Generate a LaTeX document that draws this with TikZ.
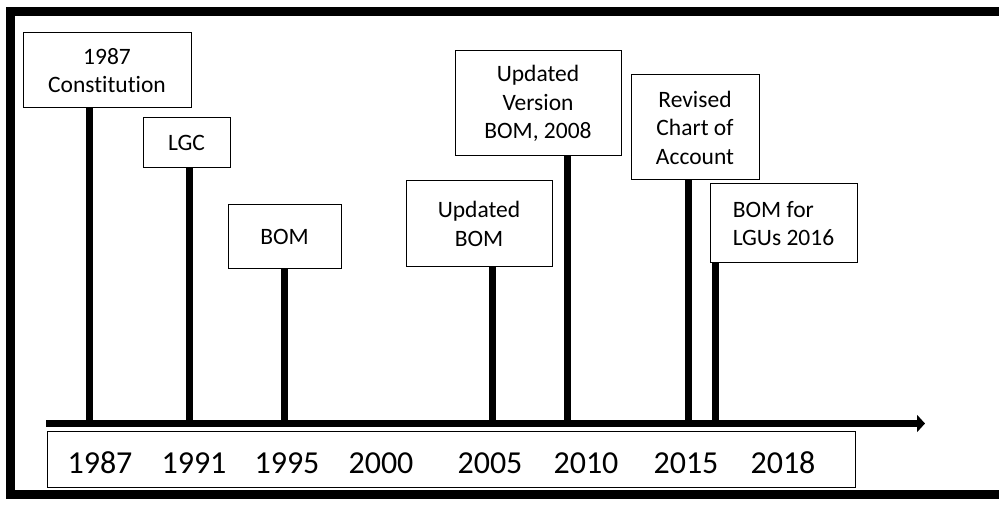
\documentclass[tikz,border=0pt]{standalone}
\usepackage{fontspec}
\setmainfont{Carlito}[Numbers=Lining,Ligatures=NoCommon]
\usetikzlibrary{arrows.meta}
\newcommand{\drawthick}{\draw[line width=7pt]}
\tikzset{
  event/.style={draw, line width=1pt, inner sep=0pt, align=center,
    font=\fontsize{23.5}{28.5}\selectfont},
  yearlabel/.style={inner sep=0pt, anchor=base, font=\fontsize{32}{36}\selectfont},
}
\begin{document}
\begin{tikzpicture}[x=1pt,y=-1pt]
\useasboundingbox (0,0) rectangle (999,505);
% frame, open on the right
\draw[line width=9pt] (999,11.5)--(10,11.5)--(10,494)--(999,494);
% event boxes
\node[event, minimum width=168pt, minimum height=75pt] (con) at (107,70.5) {1987\\Constitution};
\node[event, minimum width=87pt, minimum height=50pt] (lgc) at (186.5,143) {LGC};
\node[event, minimum width=113pt, minimum height=64pt] (bom) at (284.5,237) {BOM};
\node[event, minimum width=146pt, minimum height=86pt] (upd) at (479,224) {Updated\\BOM};
\node[event, minimum width=166pt, minimum height=105pt] (ver) at (538,103.5) {Updated\\Version\\BOM, 2008};
\node[event, minimum width=128pt, minimum height=105pt] (rev) at (695,127.5) {Revised\\Chart of\\Account};
\node[event, minimum width=147pt, minimum height=79pt, align=left] (lgu) at (783.5,223.5) {BOM for\\LGUs 2016};
% axis
\coordinate (start) at (46,423.5);
\coordinate (end) at (925,423.5);
\drawthick[-{Triangle[length=8pt,width=17pt]}] (start) -- (end);
% stems
\foreach \name/\x in {con/89,lgc/189,bom/284,upd/492,ver/567,rev/688,lgu/715}{
  \coordinate (t\name) at (\x,426);
  \drawthick (t\name) -- (t\name |- \name.south);
}
% years
\node[draw, line width=1pt, minimum width=808pt, minimum height=56pt] (years) at (451,459) {};
\foreach \yr/\x in {1987/100,1991/194,1995/287,2000/381,2005/490,2010/586,2015/686,2018/783}{
  \node[yearlabel] (y\yr) at (\x,473) {\yr};
}
\end{tikzpicture}
\end{document}
